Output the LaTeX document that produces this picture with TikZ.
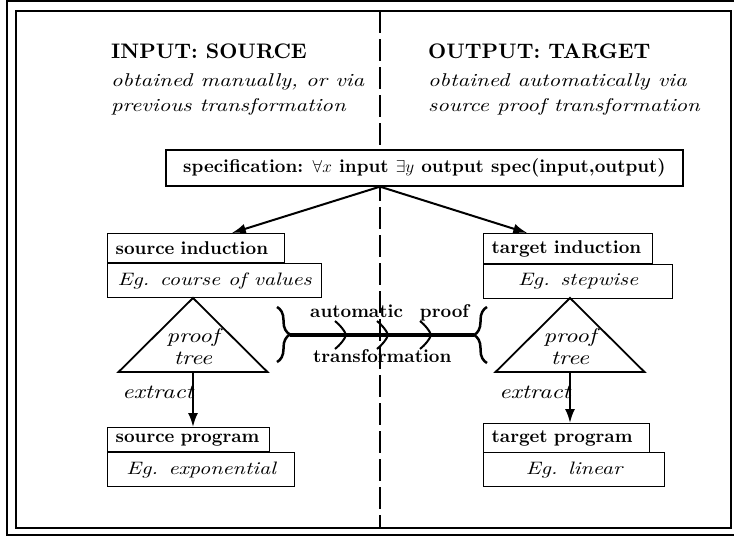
\documentclass[tikz,border=0pt]{standalone}
\usepackage{amsmath, amssymb}
\usepackage{fontspec}
\setmainfont{lmroman10-regular.otf}[BoldFont=lmroman10-bold.otf, ItalicFont=lmroman10-italic.otf, ItalicFeatures={FakeStretch=1.22}]
\usetikzlibrary{arrows.meta, calc, decorations.pathreplacing}

\begin{document}
\begin{tikzpicture}[x=1pt, y=-1pt,
    every node/.style={inner sep=0pt, font=\fontsize{18.5}{25}\selectfont},
    topbox/.style={draw, fill=white, line width=1.3pt, anchor=north west, inner xsep=8pt, align=left, font=\fontsize{18.5}{20}\selectfont\bfseries},
    egbox/.style={draw, line width=1.3pt, anchor=north west, align=center, minimum height=34pt, font=\fontsize{18}{20}\selectfont\itshape},
    arr/.style={line width=2pt, -{Latex[length=14pt, width=10pt]}}]
  \useasboundingbox (0,0) rectangle (734,536);
  \draw[line width=1.4pt] (734,1) -- (7,1) -- (7,535) -- (734,535);
  \draw[line width=1.6pt] (16,11) rectangle (731,528);
  \coordinate (divtop) at (380,11);
  \coordinate (divbot) at (380,528);
  \draw[line width=2pt, dash pattern=on 22pt off 6pt] (divtop) -- (divbot);

  \node[anchor=north west, align=left] (inhead) at (111,44)
    {{\fontsize{21}{25}\selectfont\bfseries INPUT: SOURCE}\\[3pt] \textit{obtained manually, or via}\\ \textit{previous transformation}};
  \node[anchor=north west, align=left] (outhead) at (428,44)
    {{\fontsize{21}{25}\selectfont\bfseries OUTPUT: TARGET}\\[3pt] \textit{obtained automatically via}\\ \textit{source proof transformation}};

  \node[draw, fill=white, line width=1.3pt, minimum width=517pt, minimum height=36pt, font=\fontsize{18.5}{20}\selectfont\bfseries] (spec) at (424.5,168)
    {specification: $\forall x$ input $\exists y$ output spec(input,output)};

  \node[topbox, text width=161pt, minimum height=29pt] (srcind) at (107,233) {source induction};
  \node[egbox, minimum width=214pt] (srceg) at (107,263) {Eg. course of values};
  \node[topbox, text width=153pt, minimum height=30pt] (tgtind) at (483,233) {target induction};
  \node[egbox, minimum width=189pt] (tgteg) at (483,264) {Eg. stepwise};
  \node[topbox, text width=146pt, minimum height=24pt] (srcprog) at (107,427) {source program};
  \node[egbox, minimum width=187pt] (srcexp) at (107,452) {Eg. exponential};
  \node[topbox, text width=150pt, minimum height=29pt] (tgtprog) at (483,423) {target program};
  \node[egbox, minimum width=181pt] (tgtlin) at (483,452) {Eg. linear};

  \draw[arr] (spec.south -| divtop) -- ($(srcind.north west)!0.7!(srcind.north east)$);
  \draw[arr] (spec.south -| divtop) -- ($(tgtind.north west)!0.26!(tgtind.north east)$);

  \foreach \cx/\nm in {193/src, 570/tgt} {
    \draw[line width=1.8pt, line join=miter] (\cx,298) -- (\cx-74.5,372) -- (\cx+74.5,372) -- cycle;
    \coordinate (\nm base) at (\cx,372);
    \node[align=center, font=\fontsize{20}{22}\selectfont\itshape] (\nm tree) at (\cx,347) {proof\\tree};
    \node[anchor=base east, font=\fontsize{20}{20}\selectfont\itshape] (\nm ext) at (\cx+1,398) {extract};
    \draw[arr] (\nm base) -- (\nm base |- \nm prog.north);
  }

  \coordinate (lbtip) at (290,335);
  \coordinate (rbtip) at (474,335);
  \draw[line width=2.5pt, decorate, decoration={brace, amplitude=13pt}] (277,307) -- (277,362);
  \draw[line width=2.5pt, decorate, decoration={brace, amplitude=13pt}] (487,363) -- (487,307);
  \draw[line width=4pt] (lbtip) -- (rbtip);
  \foreach \cx in {343,385,428}
    \draw[line width=2pt] (\cx-8,321) .. controls (\cx-3,325) and (\cx+2,331) .. (\cx+3,335)
      .. controls (\cx+2,339) and (\cx-3,345) .. (\cx-8,349);
  \node[anchor=base west, font=\fontsize{18.5}{20}\selectfont\bfseries] (autoproof) at (310,317) {automatic\hspace{17pt}proof};
  \node[anchor=base west, font=\fontsize{18.5}{20}\selectfont\bfseries] (transf) at (313,362) {transformation};
\end{tikzpicture}
\end{document}
